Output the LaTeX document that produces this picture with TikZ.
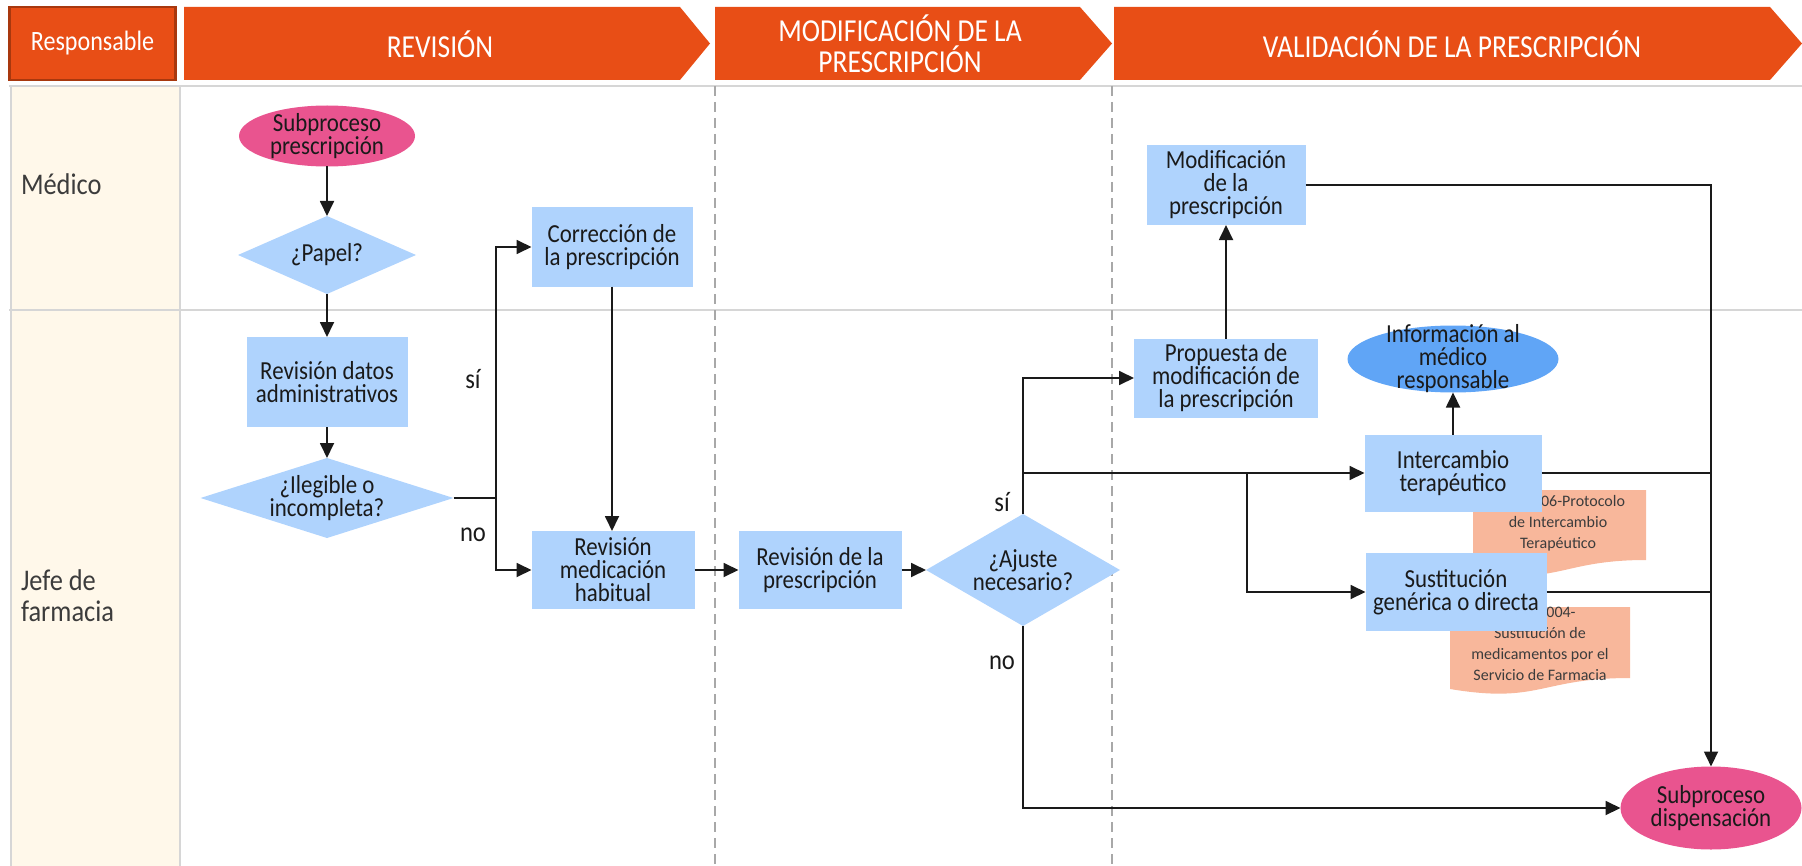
\documentclass[tikz,border=0pt]{standalone}
\usepackage{fontspec}
\setmainfont{Carlito}
\newfontfamily\nodefont[FakeStretch=0.88]{Carlito}
\newfontfamily\bannerfont[FakeStretch=0.86]{Carlito}
\usetikzlibrary{shapes.geometric,arrows.meta}

\definecolor{banner}{HTML}{E84E16}
\definecolor{bannerdark}{HTML}{A8380E}
\definecolor{boxblue}{HTML}{AFD3FD}
\definecolor{pinkterm}{HTML}{E9548F}
\definecolor{infoblue}{HTML}{60A5F6}
\definecolor{docsalmon}{HTML}{F8B79B}
\definecolor{cream}{HTML}{FFF8EA}
\definecolor{gridgray}{HTML}{D6D6D6}
\definecolor{phasegray}{HTML}{A8A8A8}
\definecolor{ink}{HTML}{1A1A1A}

\begin{document}
\begin{tikzpicture}[x=0.5pt,y=-0.5pt,
  every node/.style={inner sep=0pt, outer sep=0pt},
  txt/.style={align=center, text=ink, font=\nodefont\fontsize{13}{11.5}\selectfont},
  proc/.style={rectangle, fill=boxblue, txt},
  decision/.style={diamond, fill=boxblue},
  terminal/.style={ellipse, fill=pinkterm},
  infonode/.style={ellipse, fill=infoblue},
  doctext/.style={align=center, text=ink!85, font=\fontsize{8}{10.5}\selectfont},
  bannertext/.style={align=center, text=white, font=\bannerfont\fontsize{16}{15.5}\selectfont},
  lanelabel/.style={align=left, text=ink!85, font=\nodefont\fontsize{15}{15.5}\selectfont},
  answer/.style={text=ink, font=\nodefont\fontsize{14}{14}\selectfont},
  gridline/.style={draw=gridgray, line width=1pt},
  phaseline/.style={draw=phasegray, line width=0.7pt, dash pattern=on 5pt off 3pt},
  link/.style={draw=ink, line width=0.9pt},
  flow/.style={link, -{Triangle[length=7.5pt,width=7pt]}}
]
\useasboundingbox (0,0) rectangle (1802,866);

% lane grid
\fill[cream] (11,87) rectangle (179,866);
\draw[gridline] (9,86) -- (1802,86);
\draw[gridline] (9,310) -- (1802,310);
\draw[gridline] (11,86) -- (11,866);
\draw[gridline] (180,86) -- (180,866);
\draw[phaseline] (715,86) -- (715,866);
\draw[phaseline] (1112,86) -- (1112,866);

% phase banners
\node[rectangle, fill=banner, draw=bannerdark, line width=1.2pt,
      minimum width=83pt, minimum height=36.5pt, text=white,
      font=\bannerfont\fontsize{14}{14}\selectfont] (resp) at (92.5,43.5) {Responsable};
\fill[banner] (184,7) -- (680,7) -- (710,43.5) -- (680,80) -- (184,80) -- cycle;
\node[bannertext] (hrev) at (440,44) {REVISIÓN};
\fill[banner] (715,7) -- (1080,7) -- (1112,43.5) -- (1080,80) -- (715,80) -- cycle;
\node[bannertext] (hmod) at (900,44) {MODIFICACIÓN DE LA\\PRESCRIPCIÓN};
\fill[banner] (1114,7) -- (1770,7) -- (1802,43.5) -- (1770,80) -- (1114,80) -- cycle;
\node[bannertext] (hval) at (1452,44) {VALIDACIÓN DE LA PRESCRIPCIÓN};

% lane labels
\node[lanelabel, anchor=west] (lmed) at (21,184) {Médico};
\node[lanelabel, anchor=west] (ljefe) at (21,596) {Jefe de\\farmacia};

% reference documents (drawn first, partly covered by the boxes)
\fill[docsalmon] (1473,490) -- (1646,490) -- (1646,560)
  .. controls (1559.5,560) and (1559.5,586) .. (1473,571) -- cycle;
\node[doctext] (doc1) at (1558,523) {\hspace*{25pt}06-Protocolo\\de Intercambio\\Terapéutico};
\fill[docsalmon] (1450,607) -- (1630,607) -- (1630,678)
  .. controls (1540,678) and (1540,704) .. (1450,689) -- cycle;
\node[doctext] (doc2) at (1540,644) {\hspace*{21pt}004-\\Sustitución de\\medicamentos por el\\Servicio de Farmacia};

% flow nodes
\node[terminal, minimum width=88pt, minimum height=30.5pt,
      label={[txt]center:{Subproceso\\prescripción}}] (presc) at (327,136) {};
\node[decision, minimum width=89pt, minimum height=39pt,
      label={[txt]center:{¿Papel?}}] (papel) at (327,255) {};
\node[proc, minimum width=80.5pt, minimum height=45pt] (revdat) at (327,382) {Revisión datos\\administrativos};
\node[decision, minimum width=126.5pt, minimum height=40pt,
      label={[txt]center:{¿Ilegible o\\incompleta?}}] (ileg) at (327,498) {};
\node[proc, minimum width=80.5pt, minimum height=39.5pt] (corr) at (612,247) {Corrección de\\la prescripción};
\node[proc, minimum width=81.5pt, minimum height=39pt] (revmed) at (613,570) {Revisión\\medicación\\habitual};
\node[proc, minimum width=81.5pt, minimum height=39pt] (revpre) at (820,570) {Revisión de la\\prescripción};
\node[decision, minimum width=97pt, minimum height=56pt,
      label={[txt]center:{¿Ajuste\\necesario?}}] (ajuste) at (1023,570) {};
\node[proc, minimum width=92pt, minimum height=39.5pt] (prop) at (1226,378) {Propuesta de\\modificación de\\la prescripción};
\node[proc, minimum width=79.5pt, minimum height=40pt] (modif) at (1226,185) {Modificación\\de la\\prescripción};
\node[infonode, minimum width=105.5pt, minimum height=33.5pt,
      label={[txt]center:{Información al\\médico\\responsable}}] (info) at (1453,359) {};
\node[proc, minimum width=88.5pt, minimum height=38.5pt] (inter) at (1453,473) {Intercambio\\terapéutico};
\node[proc, minimum width=90.5pt, minimum height=39pt] (sust) at (1456,592) {Sustitución\\genérica o directa};
\node[terminal, minimum width=90.5pt, minimum height=41.5pt,
      label={[txt]center:{Subproceso\\dispensación}}] (disp) at (1711,808) {};

% branch points
\coordinate (split1) at (496,498);
\coordinate (yes2) at (1023,473);
\coordinate (split2) at (1247,473);

% connectors
\draw[flow] (presc) -- (papel);
\draw[flow] (papel) -- (revdat);
\draw[flow] (revdat) -- (ileg);
\draw[link] (ileg.east) -- (split1);
\draw[flow] (split1) |- (corr.west);
\draw[flow] (split1) |- (revmed.west);
\draw[flow] (corr) -- (corr.south |- revmed.north);
\draw[flow] (revmed) -- (revpre);
\draw[flow] (revpre) -- (ajuste);
\draw[flow] (ajuste.north) |- (prop.west);
\draw[flow] (yes2) -- (inter.west);
\draw[flow] (split2) |- (sust.west);
\draw[flow] (ajuste.south) |- (disp.west);
\draw[flow] (prop) -- (modif);
\draw[flow] (modif.east) -| (disp.north);
\draw[link] (inter.east) -- (inter.east -| disp.north);
\draw[link] (sust.east) -- (sust.east -| disp.north);
\draw[flow] (inter) -- (info);

% branch answers
\node[answer] (si1) at (473,379) {sí};
\node[answer] (no1) at (473,535) {no};
\node[answer] (si2) at (1002,502) {sí};
\node[answer] (no2) at (1002,663) {no};
\end{tikzpicture}
\end{document}
